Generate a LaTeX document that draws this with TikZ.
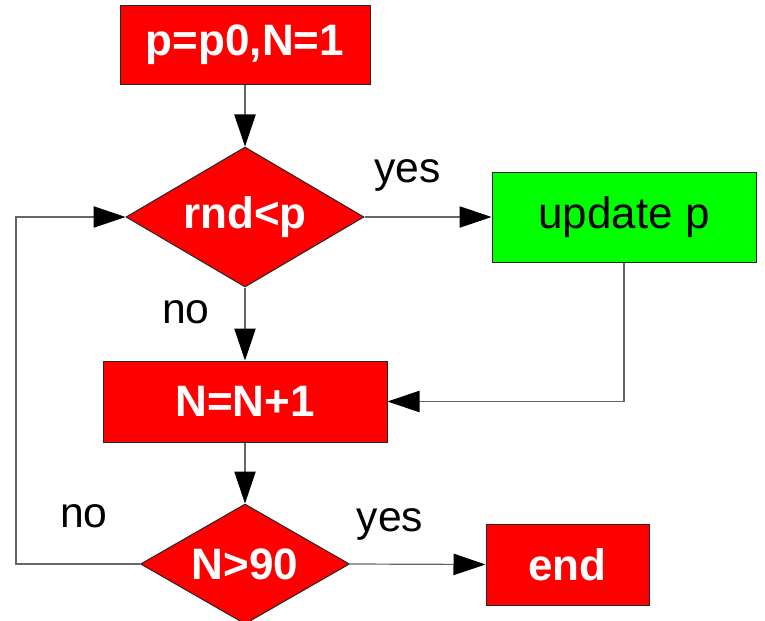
\documentclass[tikz,border=0pt]{standalone}
\usepackage{fontspec}
\setmainfont{Liberation Sans}
\usetikzlibrary{shapes.geometric,arrows.meta}
\definecolor{fred}{RGB}{255,0,0}
\definecolor{fgreen}{RGB}{0,255,0}
\tikzset{
  boxbase/.style={draw=black!85, line width=0.75pt, inner sep=0pt, font=\fontsize{33}{36}\selectfont},
  redbox/.style={boxbase, rectangle, fill=fred, text=white, font=\fontsize{33}{36}\selectfont\bfseries},
  greenbox/.style={boxbase, rectangle, fill=fgreen, text=black},
  decide/.style={boxbase, diamond, aspect=1.7, fill=fred, text=white, font=\fontsize{33}{36}\selectfont\bfseries},
  lbl/.style={font=\fontsize{32}{36}\selectfont, text=black, inner sep=0pt},
  arr/.style={draw=black!60, line width=0.9pt, -{Triangle[length=24pt,width=16pt,color=black]}},
  ln/.style={draw=black!60, line width=0.9pt}
}
\begin{document}
\begin{tikzpicture}[x=0.75pt,y=-0.75pt]
\useasboundingbox (0,0) rectangle (765,621);
\node[redbox, minimum width=187.5pt, minimum height=59.25pt] (init) at (245,44.5) {p=p0,N=1};
\node[decide, minimum width=178.5pt, minimum height=105pt] (d1) at (245,217) {rnd<p};
\node[greenbox, minimum width=198pt, minimum height=67.5pt] (upd) at (624,217) {update p};
\node[redbox, minimum width=213pt, minimum height=60.75pt] (inc) at (245,401.5) {N=N+1};
\node[decide, minimum width=156.75pt, minimum height=90pt] (d2) at (245,564) {N>90};
\node[redbox, minimum width=122.25pt, minimum height=60.75pt] (fin) at (567.5,564.5) {end};
\coordinate (lb) at (16,564);
\draw[arr] (init) -- (d1);
\draw[arr] (d1.east) -- (upd.west);
\draw[arr] (d1.south) -- (inc.north);
\draw[arr] (upd.south) |- (inc.east);
\draw[arr] (inc.south) -- (d2.north);
\draw[arr] (d2.east) -- (fin.west);
\draw[arr] (d2.west) -- (lb) |- (d1.west);
\node[lbl] (yes1) at (407.5,175.5) {yes};
\node[lbl] (no1) at (186,312.5) {no};
\node[lbl] (no2) at (84,516.5) {no};
\node[lbl] (yes2) at (390,524) {yes};
\end{tikzpicture}
\end{document}
